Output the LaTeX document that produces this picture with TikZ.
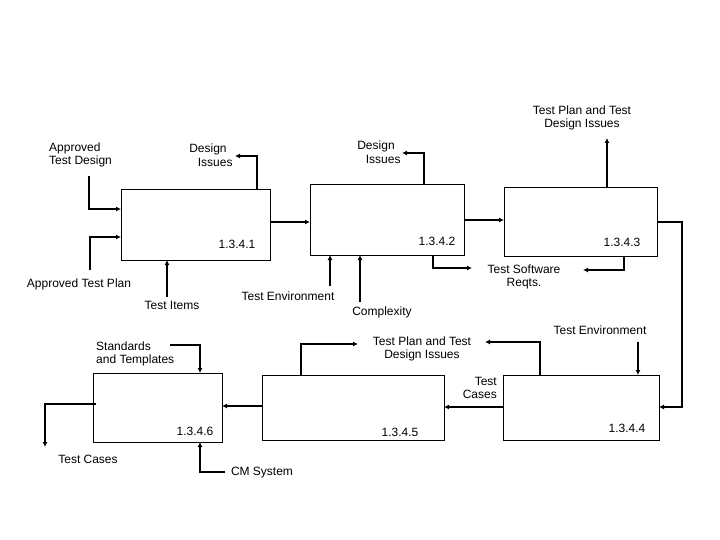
\documentclass[tikz,border=0pt]{standalone}
\usepackage{fontspec}
\setmainfont{Liberation Sans}
\usetikzlibrary{arrows.meta}
\begin{document}
\begin{tikzpicture}[x=1pt,y=-1pt,
  box/.style={draw,line width=0.8pt},
  flow/.style={line width=2.2pt,-{Latex[length=5pt,width=5pt]}},
  lbl/.style={font=\fontsize{12}{13.5}\selectfont,inner sep=0pt,align=center},
  num/.style={font=\fontsize{12}{13.5}\selectfont,inner sep=0pt}]
\useasboundingbox (0,0) rectangle (720,540);
% boxes
\draw[box] (121,189) coordinate (b1tl) rectangle (270,260) coordinate (b1br);
\draw[box] (310,184) rectangle (464,255);
\draw[box] (504,187) rectangle (657,256);
\draw[box] (503,375) rectangle (659,440);
\draw[box] (262,375) rectangle (444,440);
\draw[box] (93,373) rectangle (222,442);
\node[num] (n1) at (237,244) {1.3.4.1};
\node[num] (n2) at (437,241) {1.3.4.2};
\node[num] (n3) at (622,242) {1.3.4.3};
\node[num] (n4) at (627,428) {1.3.4.4};
\node[num] (n5) at (400,432) {1.3.4.5};
\node[num] (n6) at (195,431) {1.3.4.6};
% labels
\node[lbl,align=left,anchor=west] (atd) at (49,155) {Approved\\Test Design};
\node[lbl] (di1) at (208,155) {Design\\\hspace*{1.2em}Issues};
\node[lbl] (di2) at (376,152) {Design\\\hspace*{1.2em}Issues};
\node[lbl] (tp1) at (582,118) {Test Plan and Test\\Design Issues};
\node[lbl] (atp) at (79,284) {Approved Test Plan};
\node[lbl] (ti) at (172,305) {Test Items};
\node[lbl] (te1) at (288,296) {Test Environment};
\node[lbl] (cx) at (382,312) {Complexity};
\node[lbl] (tsr) at (524,277) {Test Software\\Reqts.};
\node[lbl] (te2) at (600,330) {Test Environment};
\node[lbl] (tp2) at (422,349) {Test Plan and Test\\Design Issues};
\node[lbl,align=right,anchor=east] (tc1) at (497,388) {Test\\Cases};
\node[lbl,align=left,anchor=west] (st) at (96,354) {Standards\\and Templates};
\node[lbl] (tc2) at (88,459) {Test Cases};
\node[lbl] (cm) at (262,473) {CM System};
% connectors
\draw[flow] (89,176) -- (89,209) -- (121,209);
\draw[flow] (90,270) -- (90,237) -- (121,237);
\draw[flow] (167,297) -- (167,260);
\draw[flow] (257,189) -- (257,156) -- (235,156);
\draw[flow] (270,222) -- (310,222);
\draw[flow] (330,286) -- (330,255);
\draw[flow] (360,302) -- (360,255);
\draw[flow] (424,184) -- (424,153) -- (402,153);
\draw[flow] (464,220) -- (504,220);
\draw[flow] (607,188) -- (607,138);
\draw[flow] (433,255) -- (433,268) -- (472,268);
\draw[flow] (624,256) -- (624,270) -- (583,270);
\draw[flow] (657,222) -- (682,222) -- (682,407) -- (659,407);
\draw[flow] (638,342) -- (638,375);
\draw[flow] (540,375) -- (540,342) -- (485,342);
\draw[flow] (301,375) -- (301,344) -- (358,344);
\draw[flow] (503,407) -- (444,407);
\draw[flow] (262,406) -- (222,406);
\draw[flow] (170,345) -- (200,345) -- (200,373);
\draw[flow] (96,404) -- (45,404) -- (45,447);
\draw[flow] (225,472) -- (200,472) -- (200,442);
\end{tikzpicture}
\end{document}
